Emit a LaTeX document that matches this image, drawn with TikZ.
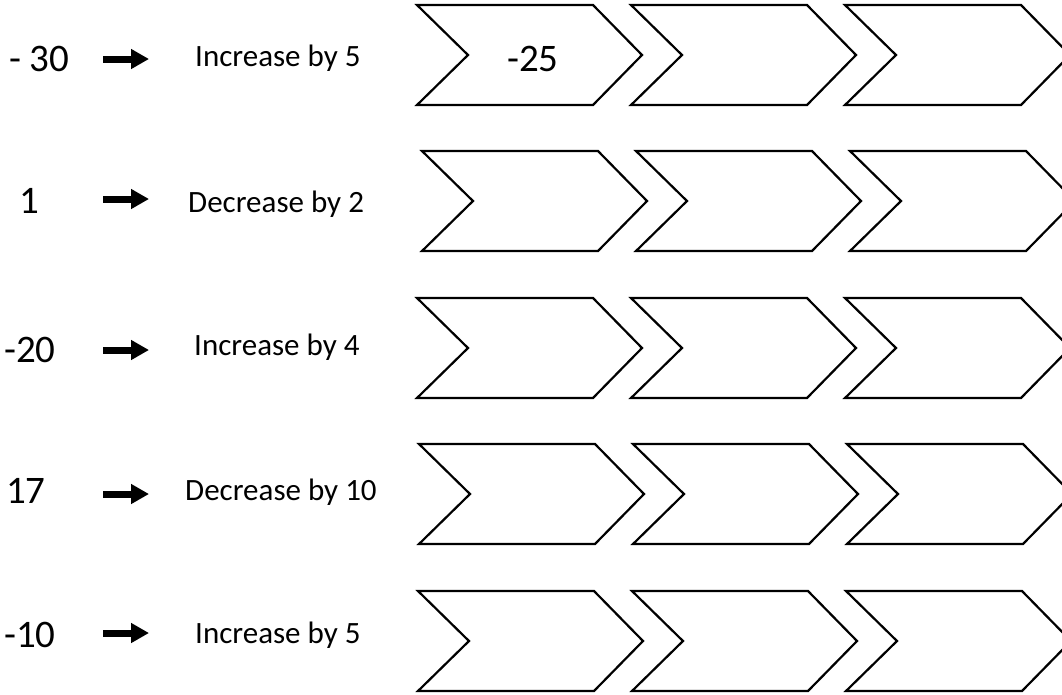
\documentclass[tikz,border=0pt]{standalone}
\usepackage{fontspec}
\setmainfont{Carlito}
\usetikzlibrary{arrows.meta}
\tikzset{
  chev/.style={draw=black, line width=2.2pt, line join=miter, fill=white},
  numtxt/.style={anchor=base west, inner sep=0pt, font=\fontsize{39}{39}\selectfont},
  labtxt/.style={anchor=base west, inner sep=0pt, font=\fontsize{31}{31}\selectfont},
  bigarrow/.style={line width=7pt, -{Triangle[length=18pt,width=19pt]}},
}
\begin{document}
\begin{tikzpicture}[x=1pt,y=-1pt]
\useasboundingbox (0,0) rectangle (1062,694);
\clip (0,0) rectangle (1062,694);
% chevrons: rows given by (left x, middle y)
\foreach \r/\lx/\my in {1/417/55, 2/422/201, 3/417/348, 4/419/494, 5/418/641}{
  \foreach \c in {0,1,2}{
    \pgfmathsetmacro{\L}{\lx+214*\c}
    \draw[chev] (\L,\my-50) -- (\L+176,\my-50) -- (\L+225,\my) -- (\L+176,\my+50)
      -- (\L,\my+50) -- (\L+51,\my) -- cycle;
    \coordinate (c\r\c) at (\L+120,\my);
  }
}
\node[numtxt] (v1) at (507,71) {-25};
% left numbers
\node[numtxt] (n1) at (9,71) {- 30};
\node[numtxt] (n2) at (19,213) {1};
\node[numtxt] (n3) at (4,362) {-20};
\node[numtxt] (n4) at (6,503) {17};
\node[numtxt] (n5) at (4,647) {-10};
% rules
\node[labtxt] (l1) at (195,66) {Increase by 5};
\node[labtxt] (l2) at (188,212) {Decrease by 2};
\node[labtxt] (l3) at (194,355) {Increase by 4};
\node[labtxt] (l4) at (185,500) {Decrease by 10};
\node[labtxt] (l5) at (195,643) {Increase by 5};
% arrows
\foreach \r/\ay in {1/59, 2/199, 3/350, 4/494, 5/633}{
  \coordinate (as\r) at (103,\ay);
  \coordinate (ae\r) at (149,\ay);
  \draw[bigarrow] (as\r) -- (ae\r);
}
\end{tikzpicture}
\end{document}
